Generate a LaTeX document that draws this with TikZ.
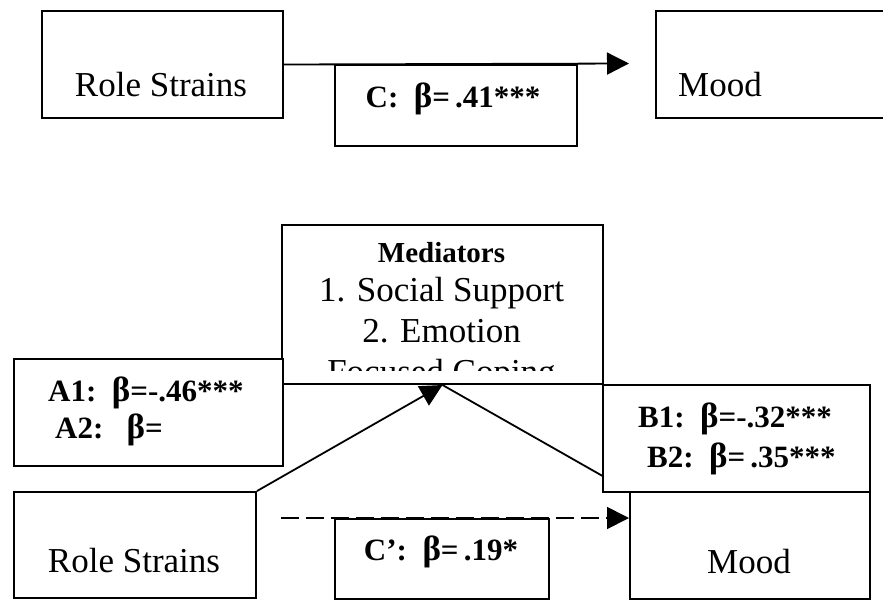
\documentclass[tikz,border=0pt]{standalone}
\usepackage{fontspec}
\setmainfont{Liberation Serif}
\usetikzlibrary{arrows.meta}
\newcommand{\bb}{{\fontsize{35}{36}\selectfont β}}
\begin{document}
\begin{tikzpicture}[x=1pt,y=-1pt,
  box/.style={draw=black, line width=2pt, fill=white, inner sep=0pt, anchor=north west},
  big/.style={inner sep=0pt, anchor=base, font=\fontsize{35}{40}\selectfont},
  bold/.style={inner sep=0pt, anchor=base, font=\fontsize{31}{34}\selectfont\bfseries},
  conn/.style={line width=1.8pt},
  tip/.style={-{Triangle[length=22pt,width=22pt]}}
]
\useasboundingbox (0,0) rectangle (883,600);
\clip (0,0) rectangle (883,600);

% ---------- top panel ----------
\node[box, minimum width=241pt, minimum height=107pt] (rs1) at (41,10) {};
\node[box, minimum width=245pt, minimum height=107pt] (mood1) at (655,10) {};
\coordinate (c1end) at (629,63.5);
\draw[conn, tip] (rs1.east) -- (c1end);
\node[box, minimum width=242pt, minimum height=81pt] (c1) at (334,63.5) {};
\node[big] (rs1t) at (161,96) {Role Strains};
\node[big, anchor=base west] (mood1t) at (678,96) {Mood};
\node[bold] (c1t) at (453,107) {C:\ \ \bb=\,.41***};

% ---------- bottom panel ----------
\node[box, minimum width=242pt, minimum height=106pt] (rs2) at (13,491) {};
\node[box, minimum width=240pt, minimum height=107pt] (mood2) at (629,491) {};
\node[box, minimum width=321pt, minimum height=159pt] (med) at (281,224) {};
\draw[conn] (med.south) -- (mood2.north west);
\draw[conn, tip] (rs2.north east) -- (med.south);
\node[box, minimum width=269pt, minimum height=107pt] (abox) at (13,358) {};
\node[box, minimum width=267pt, minimum height=107pt] (bbox) at (602,384) {};
\coordinate (cpstart) at (281,518);
\draw[conn, tip, dash pattern=on 18pt off 7pt] (cpstart) -- (cpstart -| mood2.west);
\node[box, minimum width=214pt, minimum height=80pt] (cp) at (334,518) {};

\node[bold, font=\fontsize{29}{32}\selectfont\bfseries] (medt) at (441.5,262) {Mediators};
\node[big] (m1) at (441.5,301) {1. Social Support};
\node[big] (m2) at (441.5,342) {2. Emotion};
\begin{scope}
  \clip (281,224) rectangle (602,370);
  \node[big] (m3) at (441.5,383) {Focused Coping};
\end{scope}

\node[bold, anchor=base west] (a1t) at (48,401) {A1:\ \ \bb=-.46***};
\node[bold, anchor=base west] (a2t) at (55,438) {A2:\ \ \ \bb=};
\node[bold, anchor=base west] (b1t) at (638,427) {B1:\ \ \bb=-.32***};
\node[bold, anchor=base west] (b2t) at (647,467) {B2:\ \ \bb=\,.35***};
\node[big] (rs2t) at (134,572) {Role Strains};
\node[big] (mood2t) at (749,573) {Mood};
\node[bold] (cpt) at (441,560) {C’:\ \ \bb=\,.19*};
\end{tikzpicture}
\end{document}
